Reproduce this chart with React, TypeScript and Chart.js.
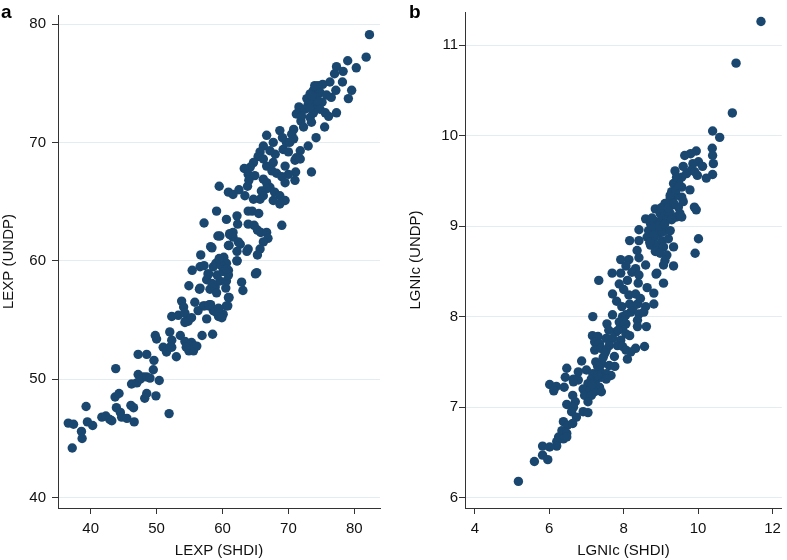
import React, { useEffect, useRef } from "react";
import { Chart, registerables } from "chart.js";

Chart.register(...registerables);

// Panel a: life expectancy, SHDI (x) vs UNDP (y)
const lexpShdi = [
  36.6, 37.4, 37.2, 38.6, 38.7, 39.3, 39.5, 40.3, 41.7, 42.3, 42.9, 43.2, 43.8, 43.7, 44.3, 43.9, 44.5, 44.7, 45.5, 46.6,
  46.1, 46.5, 46.2, 47.0, 47.2, 47.5, 48.0, 48.5, 49.0, 49.5, 48.2, 48.5, 47.2, 48.5, 49.6, 49.9, 50.4, 51.9, 49.8, 50.0,
  51.0, 51.5, 52.0, 52.3, 52.0, 53.0, 53.6, 52.3, 53.3, 53.8, 54.1, 54.4, 54.6, 54.9, 55.3, 56.1, 55.6, 55.8, 56.3, 54.9,
  56.6, 57.1, 57.6, 58.6, 56.9, 58.5, 59.6, 60.1, 59.4, 60.9, 60.6, 57.9, 58.2, 63.1, 62.9,
  54.3, 54.8, 55.3, 54.3, 59.4, 59.9, 54.3, 54.8, 52.3, 54.5, 55.8, 57.3, 58.0, 58.9, 59.4, 60.8, 56.5, 58.1, 58.9, 59.1,
  60.5, 61.0, 57.6, 58.4, 59.6, 60.6, 55.4, 57.9, 59.2, 60.9, 60.9, 60.1, 62.2, 56.6, 57.2, 58.6, 59.0, 59.6, 60.2, 60.6,
  56.7, 65.2, 58.4, 61.0, 62.7, 62.2, 59.3, 61.1, 61.6, 57.2,
  82.3, 81.8, 80.3, 79.0, 77.3, 78.3, 77.0, 78.2, 79.6, 79.1, 77.2, 77.3, 76.3, 75.2, 74.5, 73.8, 73.3, 72.8, 74.8, 75.1,
  74.3, 74.0, 73.5, 73.0, 74.8, 75.6, 76.1, 75.5, 73.8, 73.3, 73.5, 71.6, 71.5, 71.2, 71.9, 72.3, 70.8, 70.5, 70.8, 74.2,
  73.0, 73.5, 71.8, 71.2, 71.0, 71.8, 71.1, 71.0, 70.0, 69.5, 69.2, 69.7, 68.7, 69.1, 67.7, 66.7, 66.2, 65.7, 65.4, 66.2,
  66.7, 67.7, 67.5, 68.2, 69.0, 69.5, 64.7, 64.2, 63.3, 63.9, 64.9, 66.2, 66.7, 67.2, 66.7, 65.9, 67.9, 68.7, 69.5, 68.7,
  67.7, 66.2, 65.7, 64.7, 63.8, 63.4, 63.9, 65.5, 59.5, 60.9, 61.6, 59.1, 60.6, 62.2, 62.3, 63.9, 64.8, 65.3, 65.8, 66.7,
  66.9, 66.2, 65.7, 65.3, 63.9, 63.7, 62.4, 62.2, 61.1, 61.6, 60.9, 59.6, 58.2, 69.0, 65.0, 59.8, 60.6, 59.5, 57.8,
  72.5, 73.2, 74.5, 75.8, 74.0, 73.6, 72.0, 76.5, 70.2, 70.0, 68.0, 67.2, 64.0, 62.5, 64.5,
];
const lexpUndp = [
  46.3, 46.2, 44.2, 45.6, 45.0, 47.7, 46.4, 46.1, 46.8, 46.9, 46.6, 46.5, 50.9, 48.5, 48.8, 47.6, 47.2, 46.8, 46.7, 46.4,
  47.8, 47.6, 49.6, 49.7, 50.4, 50.0, 50.2, 50.2, 50.1, 50.8, 48.4, 48.8, 52.1, 52.1, 51.6, 48.6, 49.9, 47.1, 53.7, 53.4,
  52.7, 52.3, 52.7, 53.3, 54.0, 51.9, 53.7, 55.3, 55.4, 56.6, 56.1, 54.9, 53.0, 52.4, 53.1, 52.8, 52.4, 56.5, 55.8, 57.9,
  57.7, 56.2, 55.1, 55.8, 53.7, 53.8, 55.4, 55.5, 55.8, 56.9, 56.2, 56.2, 56.3, 57.5, 58.2,
  55.6, 54.9, 55.2, 54.8, 55.3, 55.2, 53.2, 52.9, 52.7, 52.7, 52.8, 56.2, 56.3, 55.7, 56.0, 56.2, 57.6, 57.6, 57.8, 57.3,
  57.7, 56.9, 58.4, 58.1, 58.3, 58.3, 59.2, 58.9, 58.8, 59.2, 58.8, 59.1, 60.0, 59.5, 59.6, 59.5, 59.8, 60.1, 60.3, 59.8,
  60.5, 59.0, 61.1, 61.3, 61.4, 60.8, 62.1, 62.2, 62.0, 63.2,
  79.1, 77.2, 76.3, 76.9, 76.4, 76.0, 75.8, 75.1, 74.4, 73.7, 74.4, 72.5, 75.1, 74.9, 74.8, 74.4, 74.1, 73.7, 74.2, 73.4,
  73.8, 73.1, 73.4, 73.2, 72.8, 72.5, 72.2, 71.3, 72.5, 72.1, 71.7, 73.0, 72.5, 72.4, 71.8, 71.3, 71.1, 70.7, 70.3, 70.4,
  69.7, 67.5, 69.3, 68.7, 68.5, 68.6, 67.5, 66.8, 67.3, 68.0, 69.4, 70.0, 71.0, 70.4, 70.0, 70.6, 69.7, 69.2, 68.8, 68.6,
  68.0, 68.3, 67.6, 67.4, 67.1, 66.6, 68.3, 67.9, 67.8, 67.3, 67.2, 66.9, 66.6, 66.2, 66.1, 65.9, 65.8, 65.5, 65.1, 64.8,
  65.1, 65.5, 65.2, 65.2, 66.3, 65.5, 64.2, 64.0, 66.3, 65.8, 65.6, 64.2, 63.5, 63.8, 63.1, 63.1, 63.0, 62.6, 62.4, 62.4,
  61.9, 61.6, 61.0, 60.5, 61.0, 60.8, 61.6, 60.0, 62.3, 62.4, 61.3, 62.1, 61.2, 63.0, 58.9, 59.6, 59.3, 60.2, 58.9,
  72.8, 72.9, 73.5, 74.0, 74.8, 73.9, 72.2, 73.8, 70.0, 69.2, 69.0, 69.3, 66.8, 66.0, 64.2,
];

// Panel b: log GNI per capita, SHDI (x) vs UNDP (y)
const lgnicShdi = [
  11.69, 11.02, 10.92, 10.39, 10.58, 10.38, 10.39, 10.41, 10.39, 10.22, 9.95, 9.80, 9.64, 9.86, 10.01, 10.12, 9.98, 9.82, 9.60, 9.38,
  9.56, 9.69, 9.34, 9.47, 9.56, 9.78, 9.29, 9.42, 9.56, 9.25, 9.11, 9.29, 9.47, 9.60, 9.90, 9.95, 8.85, 8.98, 9.11, 9.25,
  9.42, 9.56, 8.59, 8.72, 8.85, 9.03, 9.16, 9.29, 8.41, 8.67, 8.85, 8.94, 9.07, 9.25, 8.63, 8.80, 9.03, 9.20, 10.01, 8.16,
  8.41, 8.72, 8.89, 9.07, 9.34, 8.36, 8.85, 8.98, 9.16, 9.92, 8.14, 7.92, 8.41, 8.59, 9.11, 9.07, 9.34, 8.06, 8.32, 7.69,
  7.92, 8.22, 8.41, 8.89, 7.33, 8.10,
  7.88, 8.39, 9.07, 8.63, 8.81, 7.70, 7.81, 7.95, 8.14, 8.32, 8.16, 8.37, 8.59, 8.81, 8.19, 8.41, 8.54, 7.17, 7.70, 7.97,
  8.06, 7.55, 7.88, 8.06, 8.37, 8.37, 8.61, 7.97, 7.79, 8.06, 8.16, 7.16, 7.31, 7.53, 7.70, 7.92, 7.22, 7.35, 7.61, 7.83,
  7.97, 8.06, 8.32, 8.56, 7.22, 7.39, 7.53, 7.75, 8.19, 8.10, 6.87, 7.25, 7.42, 7.61, 7.76, 6.47, 6.78, 7.00, 7.17, 7.35,
  7.53, 7.66, 6.43, 6.65, 6.78, 7.13, 7.26, 7.40, 7.53, 6.01, 6.19, 6.40, 6.65, 7.04, 7.22, 7.35, 6.12, 6.91, 7.09, 7.22,
  7.40, 6.63, 6.95, 7.13, 6.70, 7.04, 6.47, 6.65, 6.60, 6.91, 7.04, 6.73, 6.38, 6.49, 6.63, 6.34, 6.47, 6.25, 6.38, 6.47,
  6.20, 6.20, 5.82, 6.01, 5.82, 5.96, 5.60, 5.17,
  9.91, 9.42, 9.25, 9.05, 9.51, 8.76, 8.87,
  8.75, 8.95, 9.10, 8.80, 8.70, 9.00, 9.20, 9.35, 9.40, 9.50, 7.45, 7.30, 7.15, 7.30, 7.50, 7.85, 8.00, 8.25, 8.45, 8.00,
  7.60,
];
const lgnicUndp = [
  11.26, 10.80, 10.25, 10.05, 9.98, 9.86, 9.78, 9.69, 9.57, 9.53, 9.83, 9.80, 9.78, 9.69, 9.71, 9.66, 9.56, 9.62, 9.66, 9.61,
  9.54, 9.58, 9.47, 9.49, 9.43, 9.40, 9.38, 9.34, 9.32, 9.31, 9.25, 9.23, 9.21, 9.27, 9.21, 9.18, 9.19, 9.14, 9.14, 9.14,
  9.10, 9.10, 9.08, 9.03, 9.05, 9.08, 9.07, 9.07, 8.96, 8.95, 8.95, 8.92, 8.94, 8.95, 8.88, 8.86, 8.84, 8.86, 8.86, 8.84,
  8.84, 8.79, 8.79, 8.77, 8.77, 8.73, 8.72, 8.70, 8.68, 8.70, 8.63, 8.63, 8.65, 8.57, 8.62, 8.57, 8.56, 8.56, 8.53, 8.48,
  8.48, 8.49, 8.46, 8.48, 8.40, 8.40,
  8.36, 8.37, 8.37, 8.32, 8.26, 8.25, 8.17, 8.11, 8.24, 8.25, 8.14, 8.14, 8.11, 8.14, 8.05, 8.03, 8.05, 8.00, 8.02, 8.00,
  8.02, 7.92, 7.94, 7.92, 7.96, 7.89, 7.89, 7.87, 7.83, 7.81, 7.79, 7.79, 7.78, 7.76, 7.76, 7.74, 7.72, 7.70, 7.68, 7.68,
  7.67, 7.63, 7.65, 7.67, 7.63, 7.65, 7.63, 7.56, 7.61, 7.53, 7.51, 7.50, 7.48, 7.46, 7.45, 7.43, 7.39, 7.41, 7.37, 7.41,
  7.37, 7.35, 7.33, 7.31, 7.30, 7.31, 7.30, 7.33, 7.31, 7.25, 7.23, 7.22, 7.28, 7.26, 7.24, 7.22, 7.18, 7.20, 7.19, 7.17,
  7.17, 7.13, 7.13, 7.13, 7.06, 7.06, 7.03, 7.00, 6.95, 6.95, 6.94, 6.89, 6.84, 6.80, 6.82, 6.74, 6.71, 6.67, 6.65, 6.67,
  6.62, 6.57, 6.57, 6.56, 6.47, 6.42, 6.40, 6.18,
  9.60, 9.54, 9.34, 9.21, 9.14, 9.09, 8.47,
  9.00, 9.00, 9.02, 8.90, 8.82, 9.20, 9.20, 9.25, 9.40, 9.45, 7.55, 7.45, 7.25, 7.35, 7.60, 7.85, 7.95, 8.10, 8.20, 8.30,
  7.85,
];

const lexpTicksX = [40, 50, 60, 70, 80];
const lexpTicksY = [40, 50, 60, 70, 80];
const lgnicTicksX = [4, 6, 8, 10, 12];
const lgnicTicksY = [6, 7, 8, 9, 10, 11];

const FONT = "'Liberation Sans', Arial, Helvetica, sans-serif";
const DOT = "#1a476f";
const AXIS = "#333333";
const GRID = "#e3ecef";
const TEXT = "#111111";

type PanelCfg = {
  xs: number[];
  ys: number[];
  xMin: number;
  xMax: number;
  yMin: number;
  yMax: number;
  xTicks: number[];
  yTicks: number[];
  xTitle: string;
  yTitle: string;
  yAxisWidth: number;
  yTitlePad: number;
  yLabelPad: number;
  padRight: number;
};

function buildChart(canvas: HTMLCanvasElement, p: PanelCfg) {
  const data = p.xs.map((x, i) => ({ x, y: p.ys[i] }));
  return new Chart(canvas, {
    type: "scatter",
    data: {
      datasets: [
        {
          data,
          pointRadius: 4.7,
          pointHoverRadius: 4.7,
          pointBorderWidth: 0,
          pointBackgroundColor: DOT,
          pointBorderColor: DOT,
          clip: false as any,
        },
      ],
    },
    options: {
      animation: false,
      responsive: false,
      events: [],
      layout: { padding: { left: 0, right: p.padRight, top: 12, bottom: 0 } },
      plugins: { legend: { display: false }, tooltip: { enabled: false } },
      scales: {
        x: {
          type: "linear",
          min: p.xMin,
          max: p.xMax,
          afterBuildTicks: (s: any) => {
            s.ticks = p.xTicks.map((v) => ({ value: v }));
          },
          afterFit: (s: any) => {
            s.height = 52;
          },
          grid: {
            drawOnChartArea: false,
            drawTicks: true,
            tickLength: 6,
            tickColor: AXIS,
            tickWidth: 1,
          },
          border: { display: true, color: AXIS, width: 1 },
          ticks: {
            color: TEXT,
            font: { family: FONT, size: 15 },
            padding: 6,
            maxRotation: 0,
            autoSkip: false,
          },
          title: {
            display: true,
            text: p.xTitle,
            color: TEXT,
            font: { family: FONT, size: 15 },
            padding: { top: 0, bottom: 0 },
          },
        },
        y: {
          type: "linear",
          min: p.yMin,
          max: p.yMax,
          afterBuildTicks: (s: any) => {
            s.ticks = p.yTicks.map((v) => ({ value: v }));
          },
          afterFit: (s: any) => {
            s.width = p.yAxisWidth;
          },
          grid: {
            color: GRID,
            lineWidth: 1,
            drawTicks: true,
            tickLength: 6,
            tickColor: AXIS,
            tickWidth: 1,
          },
          border: { display: true, color: AXIS, width: 1 },
          ticks: {
            color: TEXT,
            font: { family: FONT, size: 15 },
            padding: p.yLabelPad,
            autoSkip: false,
          },
          title: {
            display: true,
            text: p.yTitle,
            color: TEXT,
            font: { family: FONT, size: 15 },
            padding: { top: p.yTitlePad, bottom: 0 },
          },
        },
      },
    },
  });
}

export default function App() {
  const refA = useRef<HTMLCanvasElement>(null);
  const refB = useRef<HTMLCanvasElement>(null);

  useEffect(() => {
    const a = buildChart(refA.current!, {
      xs: lexpShdi,
      ys: lexpUndp,
      xMin: 35.04,
      xMax: 83.9,
      yMin: 39.13,
      yMax: 80.76,
      xTicks: lexpTicksX,
      yTicks: lexpTicksY,
      xTitle: "LEXP (SHDI)",
      yTitle: "LEXP (UNDP)",
      yAxisWidth: 58,
      yTitlePad: 0,
      yLabelPad: 6,
      padRight: 12,
    });
    const b = buildChart(refB.current!, {
      xs: lgnicShdi,
      ys: lgnicUndp,
      xMin: 3.735,
      xMax: 12.25,
      yMin: 5.886,
      yMax: 11.365,
      xTicks: lgnicTicksX,
      yTicks: lgnicTicksY,
      xTitle: "LGNIc (SHDI)",
      yTitle: "LGNIc (UNDP)",
      yAxisWidth: 73,
      yTitlePad: 15,
      yLabelPad: 1,
      padRight: 0,
    });
    return () => {
      a.destroy();
      b.destroy();
    };
  }, []);

  const letter: React.CSSProperties = {
    position: "absolute",
    top: 2,
    font: `bold 19px ${FONT}`,
    lineHeight: "19px",
    color: "#000",
  };

  return (
    <div
      style={{
        position: "fixed",
        left: 0,
        top: 0,
        width: 787,
        height: 560,
        background: "#fff",
        overflow: "hidden",
      }}
    >
      <canvas ref={refA} width={392} height={560} style={{ position: "absolute", left: 0, top: 0 }} />
      <canvas ref={refB} width={395} height={560} style={{ position: "absolute", left: 392, top: 0 }} />
      <div style={{ ...letter, left: 1 }}>a</div>
      <div style={{ ...letter, left: 409 }}>b</div>
    </div>
  );
}
